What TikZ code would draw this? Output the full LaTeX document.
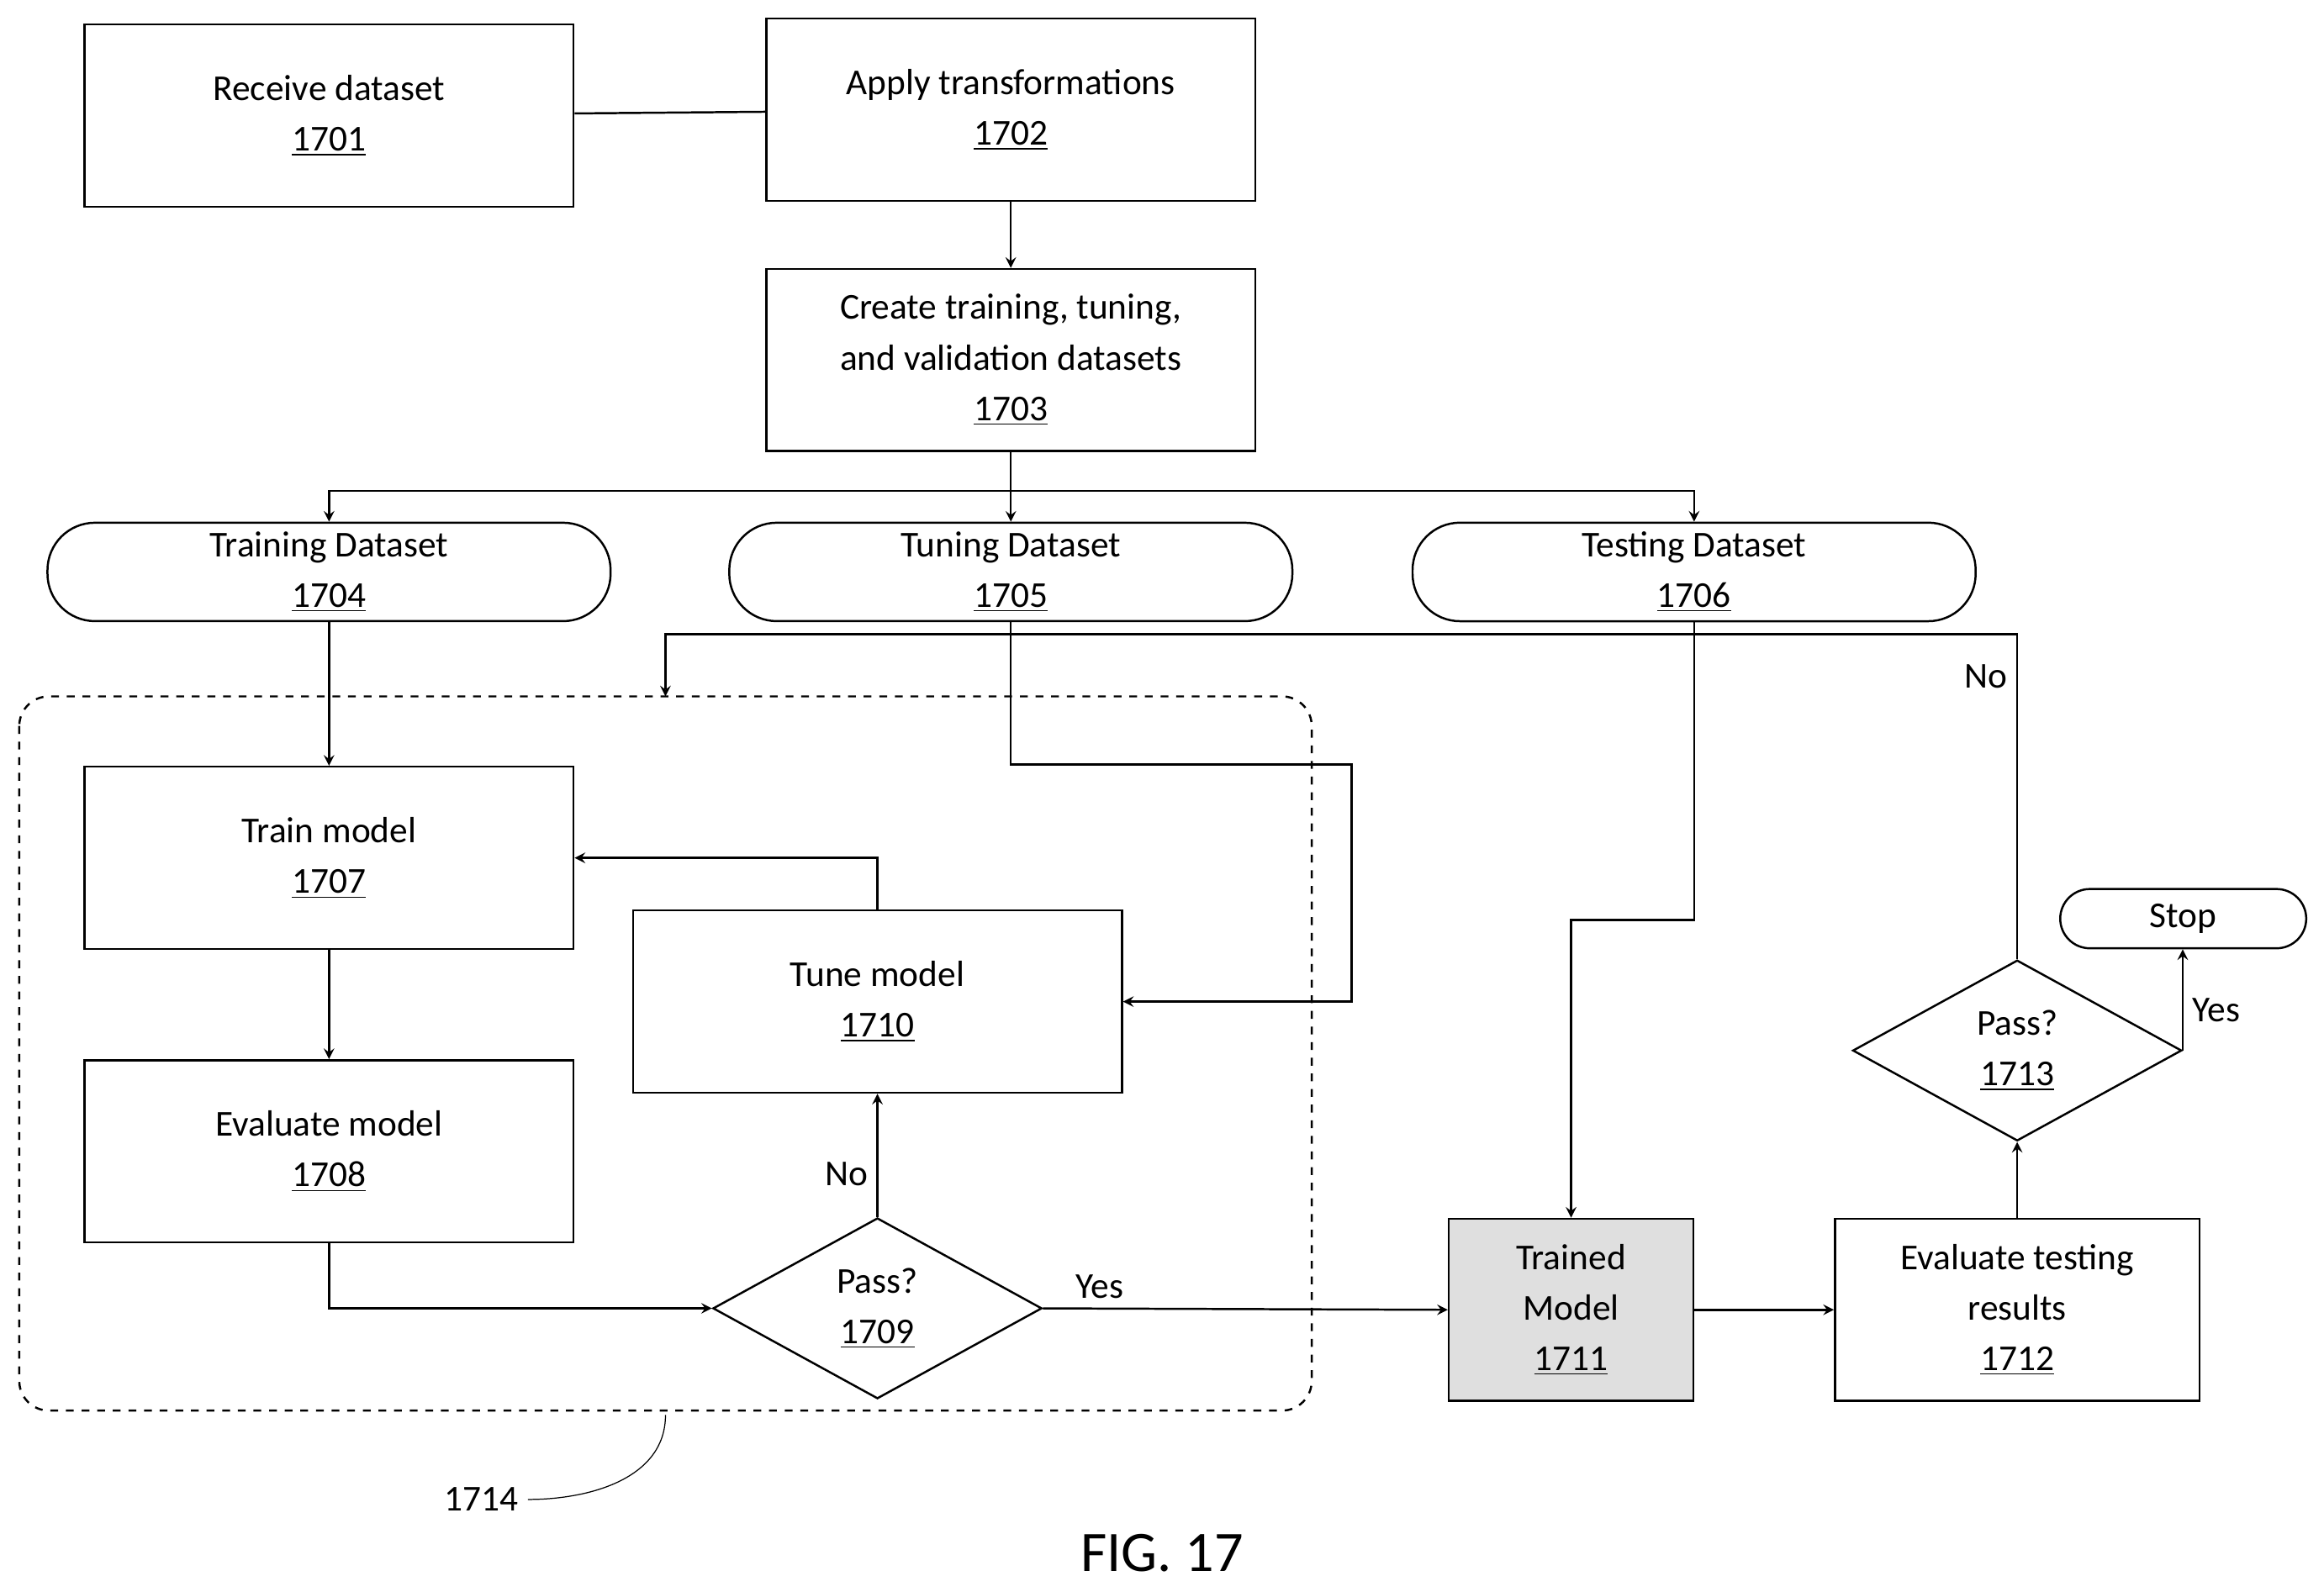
\documentclass[tikz,border=0pt]{standalone}
\usepackage{fontspec}
\setmainfont{Carlito}
\usetikzlibrary{shapes.geometric, arrows, positioning}
\tikzstyle{arrow} = [thick,-stealth]
\tikzstyle{proc} = [draw, thick, align=center, minimum width=6.6cm, minimum height=2.46cm, font=\fontsize{14}{19.4}\selectfont]
\tikzstyle{data} = [draw, thick, rounded corners=0.64cm, align=center, minimum width=7.6cm, minimum height=1.28cm, font=\fontsize{14}{19.4}\selectfont]
\tikzstyle{check} = [draw, thick, diamond, aspect=1.8, align=center, minimum width=4.44cm, minimum height=2.44cm, inner sep=0pt, font=\fontsize{14}{19.4}\selectfont]
\tikzstyle{lbl} = [font=\fontsize{14}{19.4}\selectfont]

\begin{document}
\begin{tikzpicture}[x=0.02cm, y=-0.02cm]
\useasboundingbox (0,0) rectangle (1568,1074);
\node[proc] (s1701) at (222,78) {Receive dataset\\\underline{1701}};
\node[proc] (s1702) at (682,74) {Apply transformations\\\underline{1702}};
\node[proc] (s1703) at (682,243) {Create training, tuning,\\and validation datasets\\\underline{1703}};
\node[data] (d1704) at (222,386) {Training Dataset\\\underline{1704}};
\node[data] (d1705) at (682,386) {Tuning Dataset\\\underline{1705}};
\node[data] (d1706) at (1143,386) {Testing Dataset\\\underline{1706}};
\node[proc] (s1707) at (222,579) {Train model\\\underline{1707}};
\node[proc] (s1708) at (222,777) {Evaluate model\\\underline{1708}};
\node[check] (c1709) at (592,883) {Pass?\\\underline{1709}};
\node[proc] (s1710) at (592,676) {Tune model\\\underline{1710}};
\node[proc, fill=gray!25, minimum width=3.3cm] (s1711) at (1060,884) {Trained\\Model\\\underline{1711}};
\node[proc, minimum width=4.92cm] (s1712) at (1361,884) {Evaluate testing\\results\\\underline{1712}};
\node[check] (c1713) at (1361,709) {Pass?\\\underline{1713}};
\node[data, minimum width=3.32cm, minimum height=0.8cm, rounded corners=0.4cm] (stop) at (1473,620) {Stop};

% training loop
\draw[thick, dashed, rounded corners=0.4cm] (13,470) rectangle (885,952);
\coordinate (looptop) at (449,470);

\draw[thick] (s1701) -- (s1702);
\draw[arrow] (s1702) -- (s1703);
\draw[thick] (s1703.south) -- ++(0,26) coordinate (split);
\draw[arrow] (split) -| (d1704.north);
\draw[arrow] (split) -- (d1705.north);
\draw[arrow] (split) -| (d1706.north);
\draw[arrow] (d1704) -- (s1707);
\draw[arrow] (s1707) -- (s1708);
\draw[arrow] (s1708.south) |- (c1709.west);
\draw[arrow] (c1709.north) -- node[lbl, left, pos=0.35] {No} (s1710.south);
\draw[arrow] (s1710.north) |- (s1707.east);
\draw[arrow] (d1705.south) |- (912,516) |- (s1710.east);
\draw[arrow] (c1709.east) -- node[lbl, above, pos=0.14] {Yes} (s1711.west);
\draw[arrow] (d1706.south) |- (1060,621) -- (s1711.north);
\draw[arrow] (s1711) -- (s1712);
\draw[arrow] (s1712) -- (c1713);
\draw[arrow] (c1713.east) -- node[lbl, right, pos=0.4] {Yes} (stop.south -| c1713.east);
\draw[arrow] (c1713.north) -- node[lbl, left, pos=0.87] {No} (1361,428) -| (looptop);

\node[lbl] (n1714) at (325,1012) {1714};
\draw (n1714.east) to[out=0, in=-90] (449,955);
\node[font=\fontsize{22}{26}\selectfont] (fig) at (784,1048) {FIG. 17};
\end{tikzpicture}
\end{document}
